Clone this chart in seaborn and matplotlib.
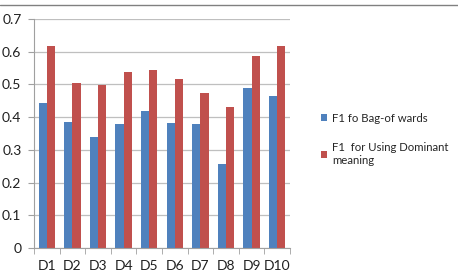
import pandas as pd
import seaborn as sns
from matplotlib import pyplot
from matplotlib.lines import Line2D

datasets = ["D1", "D2", "D3", "D4", "D5", "D6", "D7", "D8", "D9", "D10"]
bag_of_words = [0.443, 0.385, 0.338, 0.380, 0.420, 0.383, 0.380, 0.257, 0.488, 0.465]
dominant = [0.617, 0.505, 0.497, 0.538, 0.543, 0.516, 0.475, 0.430, 0.588, 0.617]
series_names = ["F1 fo Bag-of wards", "F1  for Using Dominant\nmeaning"]

df = pd.DataFrame({
    "dataset": datasets * 2,
    "f1": bag_of_words + dominant,
    "series": [series_names[0]] * len(datasets) + [series_names[1]] * len(datasets),
})

sns.set_style("white")
pyplot.rcParams['font.family'] = ['Lato', 'DejaVu Sans']

fig = pyplot.figure(figsize=(4.58, 2.72), dpi=100)
ax = fig.add_axes([34 / 458, 24 / 272, 256 / 458, 229 / 272])

sns.barplot(data=df, x="dataset", y="f1", hue="series",
            palette=["#4F81BD", "#C0504D"], width=0.64, gap=0,
            saturation=1, linewidth=0, ax=ax, legend=True)

ax.set_ylim(0, 0.7)
ax.set_yticks([0, 0.1, 0.2, 0.3, 0.4, 0.5, 0.6, 0.7])
ax.set_yticklabels(["0", "0.1", "0.2", "0.3", "0.4", "0.5", "0.6", "0.7"])
ax.set_xlim(-0.5, len(datasets) - 0.5)
ax.yaxis.grid(True, color="#BFBFBF", linewidth=0.9)
ax.set_axisbelow(True)
ax.set_xlabel("")
ax.set_ylabel("")
for side in ["top", "right"]:
    ax.spines[side].set_visible(False)
ax.spines["left"].set_color("#A0A0A0")
ax.spines["bottom"].set_color("#A0A0A0")

# excel-style tick marks between categories
ax.set_xticks([i - 0.5 for i in range(len(datasets) + 1)], minor=True)
ax.tick_params(axis="x", which="minor", length=4, color="#A0A0A0", direction="out", bottom=True)
ax.tick_params(axis="x", which="major", length=0, labelsize=10, pad=9, colors="#202020")
ax.tick_params(axis="y", length=4, color="#A0A0A0", direction="out", left=True, labelsize=10,
               pad=5, colors="#202020")

handles, labels = ax.get_legend_handles_labels()
ax.legend(handles, labels, loc="upper left", bbox_to_anchor=(316 / 458, 1 - 108 / 272),
          bbox_transform=fig.transFigure, frameon=False, fontsize=8.2,
          handlelength=0.6, handleheight=0.6, handletextpad=0.4, labelspacing=1.6,
          borderaxespad=0)

# top border line of the chart frame
fig.add_artist(Line2D([0, 1], [1 - 5 / 272, 1 - 5 / 272], color="#808080", linewidth=1,
                      transform=fig.transFigure))

pyplot.savefig("out.png", dpi=100)
